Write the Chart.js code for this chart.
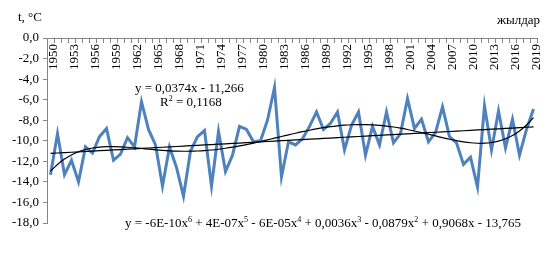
<!DOCTYPE html>
<html lang="kk">

<head>
  <meta charset="UTF-8" />
  <meta name="viewport" content="width=device-width, initial-scale=1.0" />
  <title>t, °C</title>
  <script src="https://cdn.jsdelivr.net/npm/chart.js@4.4.1/dist/chart.umd.min.js"></script>
  <style>
    * {
      margin: 0;
      padding: 0;
    }

    body {
      background: #fff;
    }

    .chartBox {
      position: relative;
      width: 552px;
      height: 253px;
      font-family: "Liberation Serif", "Times New Roman", serif;
      font-size: 13px;
      color: #000;
    }

    .note {
      position: absolute;
      white-space: nowrap;
      line-height: 13px;
    }

    sup {
      font-size: 8px;
      vertical-align: 5px;
      line-height: 0;
    }
  </style>
</head>

<body>
  <div class="chartBox">
    <canvas id="myChart" width="552" height="253"></canvas>
    <div class="note" style="left:18px;top:10px">t, °C</div>
    <div class="note" style="left:497px;top:13px">жылдар</div>
    <div class="note" style="left:135px;top:81px">y = 0,0374x - 11,266</div>
    <div class="note" style="left:160px;top:95px">R<sup>2</sup> = 0,1168</div>
    <div class="note" style="left:125px;top:216px">y = -6E-10x<sup>6</sup> + 4E-07x<sup>5</sup> - 6E-05x<sup>4</sup> + 0,0036x<sup>3</sup> - 0,0879x<sup>2</sup> + 0,9068x - 13,765</div>
  </div>
  <script>
    const years = [
      1950, 1951, 1952, 1953, 1954, 1955, 1956, 1957, 1958, 1959,
      1960, 1961, 1962, 1963, 1964, 1965, 1966, 1967, 1968, 1969,
      1970, 1971, 1972, 1973, 1974, 1975, 1976, 1977, 1978, 1979,
      1980, 1981, 1982, 1983, 1984, 1985, 1986, 1987, 1988, 1989,
      1990, 1991, 1992, 1993, 1994, 1995, 1996, 1997, 1998, 1999,
      2000, 2001, 2002, 2003, 2004, 2005, 2006, 2007, 2008, 2009,
      2010, 2011, 2012, 2013, 2014, 2015, 2016, 2017, 2018, 2019,
    ];

    // mean temperature, °C
    const temps = [
      -13.3, -9.3, -13.3, -11.9, -14.0, -10.6, -11.2, -9.6, -8.8, -11.9,
      -11.3, -9.7, -10.6, -6.2, -8.9, -10.4, -14.4, -10.6, -12.6, -15.4,
      -11.0, -9.6, -9.0, -14.4, -9.1, -13.0, -11.4, -8.6, -8.9, -10.1,
      -10.0, -8.0, -4.8, -13.5, -10.1, -10.4, -9.8, -8.6, -7.2, -8.9,
      -8.3, -7.2, -10.9, -8.5, -7.2, -11.4, -8.6, -10.4, -7.2, -10.2,
      -9.3, -5.9, -8.8, -7.9, -10.1, -9.2, -6.7, -9.6, -10.2, -12.3,
      -11.6, -14.5, -6.6, -10.9, -7.1, -10.7, -7.9, -11.4, -8.9, -6.9,
    ];

    // linear trend as printed on the chart: y = a*x + b
    const linCoef = [0.0374, -11.266];

    const linTrend = years.map((y, i) => linCoef[0] * (i + 1) + linCoef[1]);

    // 6th order polynomial trend, least squares on the data
    function polyFit(xs, ys, deg) {
      const n = deg + 1;
      const A = [];
      for (let i = 0; i < n; i++) A.push(new Array(n + 1).fill(0));
      xs.forEach((x, k) => {
        const p = [];
        for (let i = 0; i < n; i++) p.push(Math.pow(x, i));
        for (let i = 0; i < n; i++) {
          for (let j = 0; j < n; j++) A[i][j] += p[i] * p[j];
          A[i][n] += p[i] * ys[k];
        }
      });
      for (let c = 0; c < n; c++) {
        let piv = c;
        for (let r = c + 1; r < n; r++) if (Math.abs(A[r][c]) > Math.abs(A[piv][c])) piv = r;
        const tmp = A[c]; A[c] = A[piv]; A[piv] = tmp;
        for (let r = 0; r < n; r++) {
          if (r === c) continue;
          const f = A[r][c] / A[c][c];
          for (let k = c; k <= n; k++) A[r][k] -= f * A[c][k];
        }
      }
      return A.map((row, i) => row[n] / row[i]);
    }

    const half = (years.length - 1) / 2;
    const tx = years.map((y, i) => (i - half) / half);
    const pc = polyFit(tx, temps, 6);
    const polyTrend = tx.map(t => pc.reduce((s, c, i) => s + c * Math.pow(t, i), 0));

    const font = { family: "'Liberation Serif', 'Times New Roman', serif", size: 13 };

    const data = {
      labels: years,
      datasets: [
        {
          data: temps,
          borderColor: "#4f81bd",
          borderWidth: 3,
          pointRadius: 0,
          tension: 0,
          order: 2,
        },
        {
          data: linTrend,
          borderColor: "#000",
          borderWidth: 1.2,
          pointRadius: 0,
          order: 1,
        },
        {
          data: polyTrend,
          borderColor: "#000",
          borderWidth: 1.2,
          pointRadius: 0,
          tension: 0.4,
          order: 0,
        },
      ],
    };

    const options = {
      responsive: false,
      animation: false,
      layout: {
        padding: { left: 0, top: 38, right: 15, bottom: 30 },
      },
      plugins: {
        legend: { display: false },
        tooltip: { enabled: false },
      },
      scales: {
        x: {
          position: { y: 0 },
          offset: true,
          grid: {
            drawOnChartArea: false,
            tickLength: 4,
            color: "#868686",
            offset: true,
          },
          border: { color: "#868686" },
          ticks: {
            autoSkip: false,
            minRotation: 90,
            maxRotation: 90,
            padding: 2,
            labelOffset: 3,
            color: "#000",
            font: font,
            callback: function (v, i) {
              return i % 3 === 0 ? years[i] : "";
            },
          },
        },
        y: {
          min: -18,
          max: 0,
          afterFit: function (scale) {
            scale.width = 47;
          },
          grid: {
            drawOnChartArea: false,
            tickLength: 4,
            color: "#868686",
          },
          border: { color: "#868686" },
          ticks: {
            stepSize: 2,
            padding: 4,
            color: "#000",
            font: font,
            callback: function (v) {
              return v.toFixed(1).replace(".", ",");
            },
          },
        },
      },
    };

    const ctx = document.getElementById("myChart").getContext("2d");
    const myChart = new Chart(ctx, { type: "line", data: data, options: options });
  </script>
</body>

</html>
